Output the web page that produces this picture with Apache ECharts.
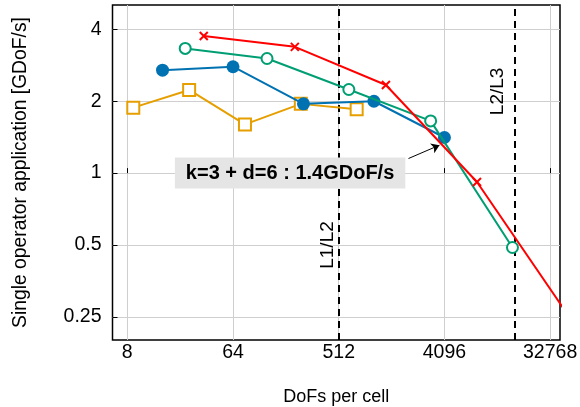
<!DOCTYPE html>
<html><head><meta charset="utf-8">
<script src="https://cdn.jsdelivr.net/npm/echarts@6/dist/echarts.min.js"></script>
<style>html,body{margin:0;padding:0;background:#fff}#c{width:580px;height:407px}</style>
</head><body><div id="c"></div>
<script>
// tick labels
const xTickValues = [8, 64, 512, 4096, 32768];
const yTickValues = [0.25, 0.5, 1, 2, 4];
// series (DoFs per cell, GDoF/s)
const dofsK2 = [9, 27, 81, 243, 729];
const perfK2 = [1.88, 2.23, 1.60, 1.95, 1.85];
const dofsK3 = [16, 64, 256, 1024, 4096];
const perfK3 = [2.70, 2.79, 1.95, 2.00, 1.41];
const dofsK4 = [25, 125, 625, 3125, 15625];
const perfK4 = [3.33, 3.02, 2.24, 1.655, 0.488];
const dofsK5 = [36, 216, 1296, 7776, 46656];
const perfK5 = [3.75, 3.38, 2.34, 0.918, 0.254];
// cache limits
const cacheLimits = [512, 16384];
const cacheLabels = ['L1/L2', 'L2/L3'];
const annotationText = 'k=3 + d=6 : 1.4GDoF/s';
const xRange = [5.98, 39800];
const yRange = [0.2, 5.06];

const L = Math.log2;
const FONT = '"Liberation Sans", Arial, Helvetica, sans-serif';
const pairs = (xs, ys) => xs.map((x, i) => [L(x), L(ys[i])]);

const chart = echarts.init(document.getElementById('c'), null, {renderer: 'canvas'});
const fmt = v => String(Math.round(Math.pow(2, v) * 1000) / 1000);

const option = {
  animation: false,
  backgroundColor: '#fff',
  grid: {left: 112.5, right: 20, top: 5, bottom: 67, outerBoundsMode: 'none', containLabel: false,
         show: true, borderColor: '#000', borderWidth: 1.5, backgroundColor: 'transparent'},
  xAxis: {
    type: 'value', min: L(xRange[0]), max: L(xRange[1]),
    name: 'DoFs per cell', nameLocation: 'middle', nameGap: 48,
    nameTextStyle: {fontFamily: FONT, fontSize: 18, color: '#000'},
    axisLine: {show: false},
    axisTick: {show: true, inside: true, length: 5, lineStyle: {color: '#000'}, customValues: xTickValues.map(L)},
    axisLabel: {customValues: xTickValues.map(L), formatter: fmt, fontFamily: FONT, fontSize: 19.5, color: '#000', margin: 3},
    splitLine: {show: true, lineStyle: {color: '#cfcfcf', width: 1}}
  },
  yAxis: {
    type: 'value', min: L(yRange[0]), max: L(yRange[1]),
    name: 'Single operator application [GDoF/s]', nameLocation: 'middle', nameGap: 82,
    nameTextStyle: {fontFamily: FONT, fontSize: 19.3, color: '#000'},
    axisLine: {show: false},
    axisTick: {show: true, inside: true, length: 5, lineStyle: {color: '#000'}, customValues: yTickValues.map(L)},
    axisLabel: {customValues: yTickValues.map(L), formatter: fmt, fontFamily: FONT, fontSize: 19.5, color: '#000', margin: 11},
    splitLine: {show: true, lineStyle: {color: '#cfcfcf', width: 1}}
  },
  series: [
    {
      type: 'line', name: 'k=2', data: pairs(dofsK2, perfK2), z: 2,
      symbol: 'emptyRect', symbolSize: 12,
      lineStyle: {color: '#e69f00', width: 2},
      itemStyle: {color: '#e69f00', borderColor: '#e69f00', borderWidth: 2},
      markLine: {
        silent: true, symbol: 'none', z: 1,
        lineStyle: {color: '#000', type: [7, 5], width: 2},
        label: {show: false},
        data: cacheLimits.map(v => ({xAxis: L(v)}))
      },
      markPoint: {
        silent: true,
        data: [
          {coord: [L(cacheLimits[0]), L(0.5)], symbolSize: 0,
           label: {show: true, formatter: cacheLabels[0], rotate: 90, offset: [0, -11], fontFamily: FONT, fontSize: 19, color: '#000'}},
          {coord: [L(cacheLimits[1]), L(2.2)], symbolSize: 0,
           label: {show: true, formatter: cacheLabels[1], rotate: 90, offset: [0, -17], fontFamily: FONT, fontSize: 19, color: '#000'}}
        ]
      }
    },
    {
      type: 'line', name: 'k=3', data: pairs(dofsK3, perfK3), z: 3,
      symbol: 'circle', symbolSize: 13,
      lineStyle: {color: '#0072b2', width: 2},
      itemStyle: {color: '#0072b2'},
      markPoint: {
        silent: true,
        data: [
          {coord: [7.62, 0], symbolSize: 0,
           label: {show: true, formatter: annotationText, fontFamily: FONT, fontSize: 20, fontWeight: 'bold', color: '#000',
                   backgroundColor: '#e5e5e5', padding: [6, 11, 5, 11]}}
        ]
      },
      markLine: {
        silent: true, symbol: ['none', 'arrow'], symbolSize: 8,
        lineStyle: {color: '#000', type: 'solid', width: 1},
        label: {show: false},
        data: [[{coord: [10.98, 0.203]}, {coord: [11.86, 0.389]}]]
      }
    },
    {
      type: 'line', name: 'k=4', data: pairs(dofsK4, perfK4), z: 4,
      symbol: 'emptyCircle', symbolSize: 11,
      lineStyle: {color: '#009e73', width: 2},
      itemStyle: {color: '#009e73', borderColor: '#009e73', borderWidth: 2}
    },
    {
      type: 'line', name: 'k=5', data: pairs(dofsK5, perfK5), z: 5,
      symbol: 'path://M0,0L10,10M10,0L0,10', symbolSize: 8,
      lineStyle: {color: '#ff0000', width: 2},
      itemStyle: {color: '#ff0000', borderColor: '#ff0000', borderWidth: 2}
    }
  ]
};
chart.setOption(option);
</script>
</body></html>
